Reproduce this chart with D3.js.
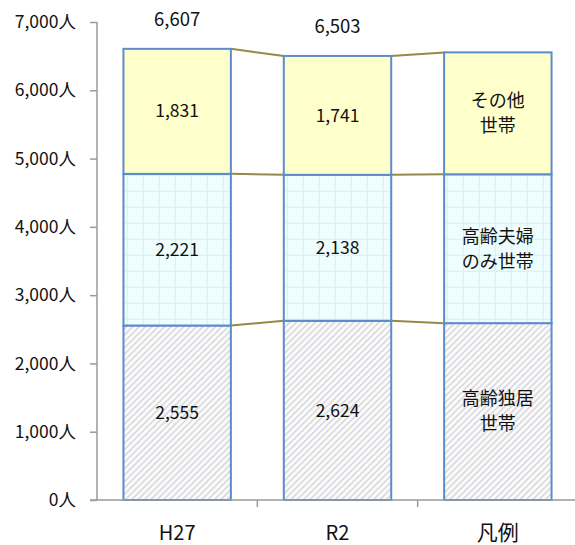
<!DOCTYPE html>
<html>
<head>
<meta charset="utf-8">
<script src="https://cdn.jsdelivr.net/npm/d3@7"></script>
<style>
  html, body { margin: 0; padding: 0; background: #fff; }
  svg { display: block; font-family: "Noto Sans CJK JP", "Noto Sans", sans-serif; }
</style>
</head>
<body>
<svg id="chart" width="575" height="545"></svg>
<script>
// Households by type (persons)
const categories = ["H27", "R2", "凡例"];
const seriesNames = ["高齢独居\n世帯", "高齢夫婦\nのみ世帯", "その他\n世帯"];
const soloElderly = [2555, 2624, 2590];
const elderlyCouple = [2221, 2138, 2180];
const otherHouseholds = [1831, 1741, 1785];
const yTicks = [0, 1000, 2000, 3000, 4000, 5000, 6000, 7000];

const seriesValues = [soloElderly, elderlyCouple, otherHouseholds];
const svg = d3.select("#chart");

const x = d3.scaleBand().domain(categories).range([97, 578]).paddingInner(0.33).paddingOuter(0.165);
const y = d3.scaleLinear().domain([0, 7000]).range([500, 22]);

// Fill patterns
const defs = svg.append("defs");
const stripes = defs.append("pattern").attr("id", "stripes")
  .attr("patternUnits", "userSpaceOnUse").attr("width", 4.5).attr("height", 4.5)
  .attr("patternTransform", "rotate(45)");
stripes.append("rect").attr("width", 4.5).attr("height", 4.5).attr("fill", "#fbfbfc");
stripes.append("rect").attr("width", 1.8).attr("height", 4.5).attr("fill", "#dcdce0");

const grid = defs.append("pattern").attr("id", "grid")
  .attr("patternUnits", "userSpaceOnUse").attr("width", 16).attr("height", 16);
grid.append("rect").attr("width", 16).attr("height", 16).attr("fill", "#eefdfd");
grid.append("path").attr("d", "M15.5,0V16M0,15.5H16").attr("stroke", "#e0eff1").attr("stroke-width", 1.5);

const fills = ["url(#stripes)", "url(#grid)", "#ffffcc"];

// Stack the three series per category
const stacks = categories.map((c, i) => {
  let base = 0;
  return seriesValues.map((vals, s) => {
    const seg = { cat: c, s, y0: base, y1: base + vals[i], v: vals[i] };
    base += vals[i];
    return seg;
  });
});

// Connector lines between segment tops
const connectors = svg.append("g");
for (let i = 0; i < categories.length - 1; i++) {
  for (let s = 0; s < seriesValues.length; s++) {
    connectors.append("line")
      .attr("x1", x(categories[i]) + x.bandwidth())
      .attr("x2", x(categories[i + 1]))
      .attr("y1", y(stacks[i][s].y1))
      .attr("y2", y(stacks[i + 1][s].y1))
      .attr("stroke", "#968a4a").attr("stroke-width", 2);
  }
}

// Bars
const bars = svg.append("g");
stacks.forEach(col => {
  col.forEach(seg => {
    bars.append("rect")
      .attr("x", x(seg.cat))
      .attr("y", y(seg.y1))
      .attr("width", x.bandwidth())
      .attr("height", y(seg.y0) - y(seg.y1))
      .attr("fill", fills[seg.s])
      .attr("stroke", "#5b8ccb").attr("stroke-width", 2);
  });
});

// Segment labels
const labels = svg.append("g").attr("text-anchor", "middle").attr("fill", "#111");
stacks.forEach((col, i) => {
  col.forEach(seg => {
    const cx = x(seg.cat) + x.bandwidth() / 2;
    const cy = (y(seg.y0) + y(seg.y1)) / 2;
    if (i < categories.length - 1) {
      labels.append("text").attr("x", cx).attr("y", cy).attr("dy", "0.35em")
        .attr("font-size", 17.5).text(d3.format(",")(seg.v));
    } else {
      const lines = seriesNames[seg.s].split("\n");
      lines.forEach((t, k) => {
        labels.append("text").attr("x", cx)
          .attr("y", cy + (k - (lines.length - 1) / 2) * 25).attr("dy", "0.35em")
          .attr("font-size", 18).text(t);
      });
    }
  });
});

// Totals above the data columns
for (let i = 0; i < categories.length - 1; i++) {
  const top = stacks[i][stacks[i].length - 1].y1;
  labels.append("text").attr("x", x(categories[i]) + x.bandwidth() / 2)
    .attr("y", y(top) - 29).attr("dy", "0.35em").attr("font-size", 18.5)
    .text(d3.format(",")(top));
}

// Axes
const yAxis = svg.append("g").attr("transform", "translate(97,0)")
  .call(d3.axisLeft(y).tickValues(yTicks).tickSize(7).tickPadding(14)
    .tickFormat(d => d3.format(",")(d) + "人"));
yAxis.select(".domain").attr("stroke", "#9a9a9a").attr("stroke-width", 1.5).attr("d", "M0,22V500");
yAxis.selectAll(".tick line").attr("stroke", "#9a9a9a").attr("stroke-width", 1.5);
yAxis.selectAll(".tick text").attr("font-size", 17.5).attr("fill", "#111")
  .attr("font-family", "'Noto Sans CJK JP', sans-serif");

const xAxis = svg.append("g").attr("transform", "translate(0,500)");
xAxis.append("line").attr("x1", 90).attr("x2", 575).attr("stroke", "#9a9a9a").attr("stroke-width", 1.5);
// Ticks between category bands
categories.slice(0, -1).forEach(c => {
  const tx = x(c) + x.bandwidth() + (x.step() - x.bandwidth()) / 2;
  xAxis.append("line").attr("x1", tx).attr("x2", tx).attr("y1", 0).attr("y2", 7)
    .attr("stroke", "#9a9a9a").attr("stroke-width", 1.5);
});
xAxis.selectAll("text.cat").data(categories).join("text").attr("class", "cat")
  .attr("x", d => x(d) + x.bandwidth() / 2).attr("y", 33).attr("dy", "0.35em")
  .attr("text-anchor", "middle").attr("font-size", d => d === "凡例" ? 21 : 20)
  .attr("fill", "#111").text(d => d);
</script>
</body>
</html>
